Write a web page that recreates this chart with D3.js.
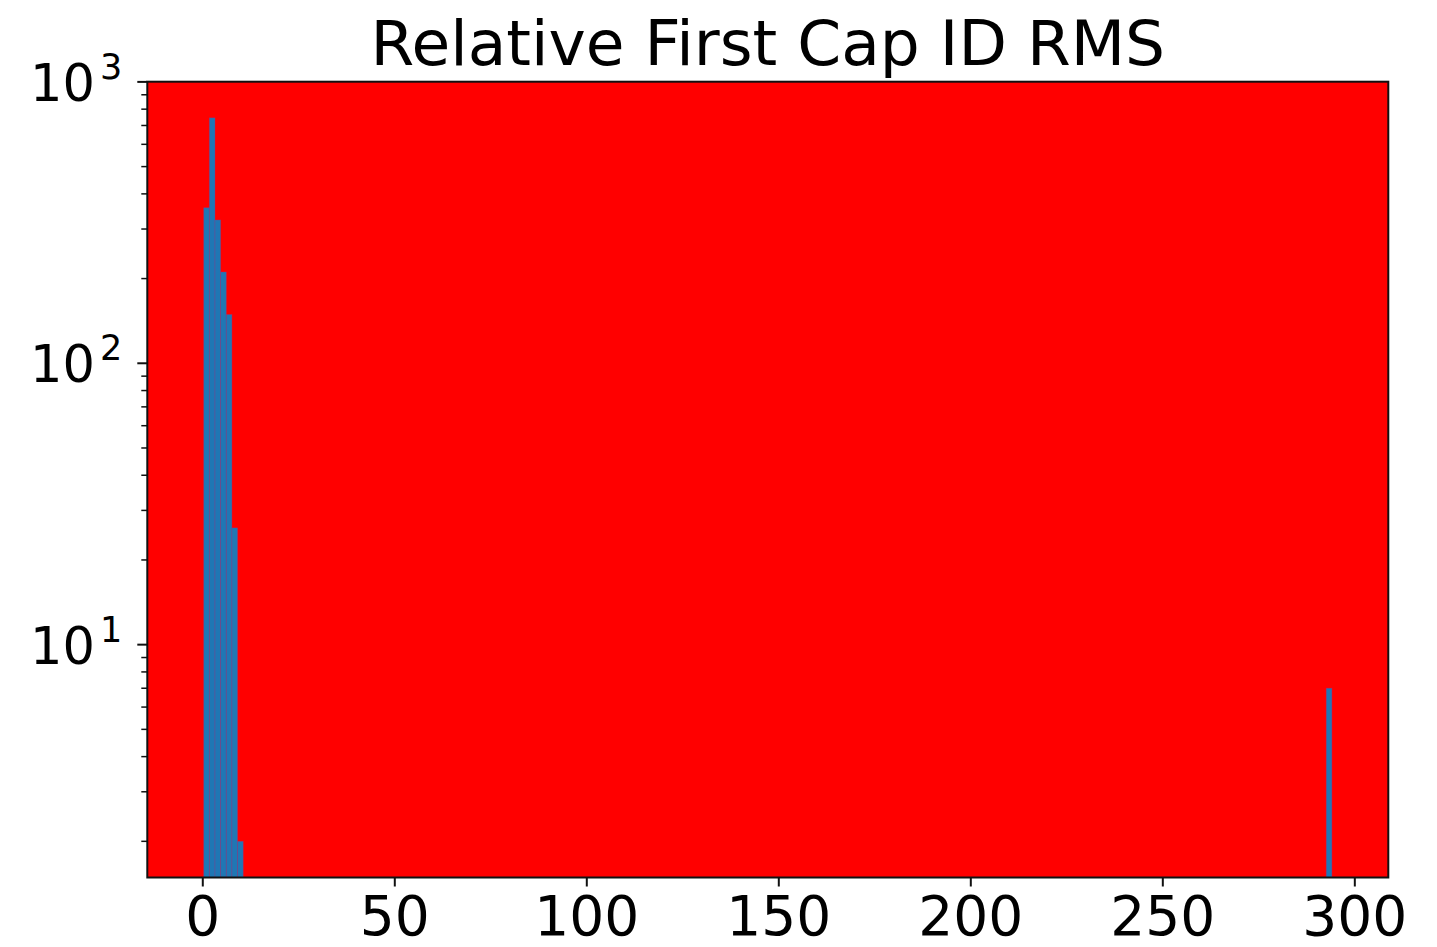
<!DOCTYPE html>
<html>
<head>
<meta charset="utf-8">
<script src="https://cdn.jsdelivr.net/npm/d3@7"></script>
<style>
  body { margin: 0; background: #fff; }
  svg text { font-family: "DejaVu Sans", sans-serif; fill: #000; }
</style>
</head>
<body>
<svg id="chart" width="1437" height="947"></svg>
<script>
// histogram bins (200 bins over the data range), only non-empty ones listed
var dataMin = 0.37
var dataMax = 294.16
var binWidth = 1.469
var binStarts = [0.37, 1.839, 3.308, 4.777, 6.246, 7.715, 9.184, 292.691]
var counts = [357, 745, 323, 211, 149, 26, 2, 7]
var xTicks = [0, 50, 100, 150, 200, 250, 300]
var yDecades = [1, 2, 3]
var title = "Relative First Cap ID RMS"

var svg = d3.select("#chart"),
    margin = {top: 81.7, right: 48.7, bottom: 69.5, left: 147.3},
    width = 1437 - margin.left - margin.right,
    height = 947 - margin.top - margin.bottom,
    g = svg.append("g").attr("transform", "translate(" + margin.left + "," + margin.top + ")");

// matplotlib style 5% margins
var xpad = 0.05 * (dataMax - dataMin)
var x = d3.scaleLinear().domain([dataMin - xpad, dataMax + xpad]).range([0, width])

var lo = Math.log10(d3.min(counts)), hi = Math.log10(d3.max(counts))
var ypad = 0.05 * (hi - lo)
var y = d3.scaleLog().domain([Math.pow(10, lo - ypad), Math.pow(10, hi + ypad)]).range([height, 0])

var bins = binStarts.map(function(s, i) { return {x0: s, x1: s + binWidth, n: counts[i]} })

g.append("rect")
    .attr("width", width)
    .attr("height", height)
    .attr("fill", "#ff0000");

g.selectAll(".bar")
    .data(bins)
    .enter().append("rect")
    .attr("class", "bar")
    .attr("x", function(d) { return x(d.x0); })
    .attr("width", function(d) { return x(d.x1) - x(d.x0); })
    .attr("y", function(d) { return y(d.n); })
    .attr("height", function(d) { return height - y(d.n); })
    .attr("fill", "#1f77b4")
    .attr("stroke", "rgba(140,60,140,0.45)")
    .attr("stroke-width", 0.8);

// spines
g.append("rect")
    .attr("width", width)
    .attr("height", height)
    .attr("fill", "none")
    .attr("stroke", "#111")
    .attr("stroke-width", 2);

// x axis
var xAxis = g.append("g")
    .attr("transform", "translate(0," + height + ")")
    .call(d3.axisBottom(x).tickValues(xTicks).tickSize(9).tickPadding(9).tickFormat(d3.format("d")));
xAxis.select(".domain").remove();
xAxis.selectAll("line").attr("stroke", "#111").attr("stroke-width", 2);
xAxis.selectAll("text").attr("font-size", "55px").attr("font-family", "DejaVu Sans");

// y axis, log with minor ticks
var dom = y.domain()
var minors = []
yDecades.forEach(function(k) {
    for (var m = 2; m <= 9; m++) {
        var v = m * Math.pow(10, k - 1)
        if (v >= dom[0] && v <= dom[1]) minors.push(v)
    }
})

var yAxis = g.append("g")
yAxis.selectAll(".minor")
    .data(minors)
    .enter().append("line")
    .attr("x1", -6).attr("x2", 0)
    .attr("y1", function(d) { return y(d); })
    .attr("y2", function(d) { return y(d); })
    .attr("stroke", "#111")
    .attr("stroke-width", 1.5);

var major = yAxis.selectAll(".major")
    .data(yDecades)
    .enter().append("g")
    .attr("transform", function(d) { return "translate(0," + y(Math.pow(10, d)) + ")"; });
major.append("line")
    .attr("x1", -10).attr("x2", 0)
    .attr("stroke", "#111")
    .attr("stroke-width", 2);
var lbl = major.append("text")
    .attr("x", -25)
    .attr("y", 19)
    .attr("text-anchor", "end")
    .attr("font-size", "51px");
lbl.append("tspan").text("10");
lbl.append("tspan")
    .attr("font-size", "35px")
    .attr("dx", 5)
    .attr("dy", -22)
    .text(function(d) { return d; });

svg.append("text")
    .attr("x", margin.left + width / 2)
    .attr("y", 65)
    .attr("text-anchor", "middle")
    .attr("font-size", "63px")
    .text(title);
</script>
</body>
</html>
